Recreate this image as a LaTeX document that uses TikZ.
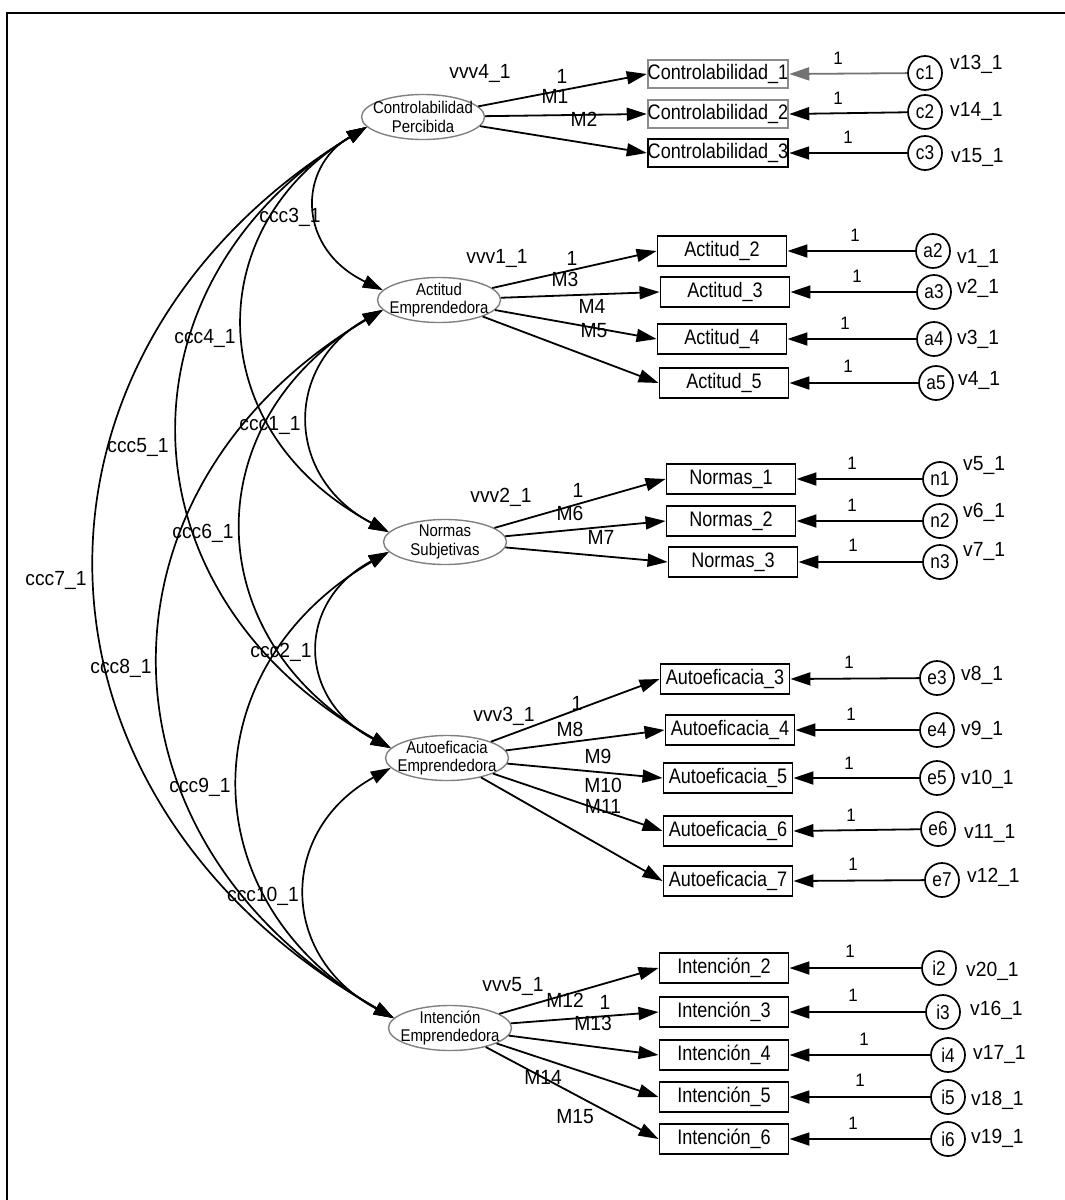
\documentclass[tikz,border=0pt]{standalone}
\usepackage{fontspec}
\setmainfont{Liberation Sans}
\newfontfamily\narbox[FakeStretch=0.86]{Liberation Sans}
\newfontfamily\narlat[FakeStretch=0.88]{Liberation Sans}
\newfontfamily\narlab[FakeStretch=0.94]{Liberation Sans}
\usetikzlibrary{arrows.meta,shapes.geometric}
\begin{document}
\begin{tikzpicture}[x=1pt,y=-1pt,
  lat/.style={ellipse,draw=black!50,line width=1.4pt,minimum width=123pt,minimum height=45pt,inner sep=0pt},
  lattxt/.style={inner sep=0pt,align=center,font=\narlat\fontsize{17}{18.5}\selectfont},
  obs/.style={rectangle,draw,line width=1.9pt,minimum width=129pt,minimum height=30pt,inner sep=0pt,font=\narbox\fontsize{21}{22}\selectfont},
  err/.style={circle,draw,line width=1.7pt,minimum size=34pt,inner sep=0pt,font=\narbox\fontsize{20}{22}\selectfont},
  lab/.style={inner sep=0pt,font=\narlab\fontsize{20.5}{22}\selectfont},
  one/.style={inner sep=0pt,font=\narlab\fontsize{18}{20}\selectfont},
  arr/.style={line width=1.8pt,-{Triangle[length=20pt,width=13pt]}},
  cov/.style={line width=1.7pt,{Triangle[length=20pt,width=13pt]}-{Triangle[length=20pt,width=13pt]}},
]
\useasboundingbox (0,0) rectangle (1065,1200);
\draw[line width=2pt] (7,1200) -- (7,13) -- (1065,13);

% latent variables
\node[lat] (cp) at (423,117) {};
\node[lat] (ae) at (439,300) {};
\node[lat] (ns) at (445,542) {};
\node[lat] (au) at (447,758) {};
\node[lat] (ie) at (450,1028) {};
\node[lattxt] (cpt) at (cp) {Controlabilidad\\Percibida};
\node[lattxt] (aet) at (ae) {Actitud\\Emprendedora};
\node[lattxt] (nst) at (ns) {Normas\\Subjetivas};
\node[lattxt] (aut) at (au) {Autoeficacia\\Emprendedora};
\node[lattxt] (iet) at (ie) {Intención\\Emprendedora};

% observed variables
\node[obs,draw=black!45,minimum height=28pt] (cb1) at (718,74) {Controlabilidad\_1};
\node[obs,draw=black!45,minimum height=28pt] (cb2) at (718,114) {Controlabilidad\_2};
\node[obs,minimum height=28pt] (cb3) at (718,153) {Controlabilidad\_3};
\node[obs] (ab2) at (722,251) {Actitud\_2};
\node[obs] (ab3) at (725,292) {Actitud\_3};
\node[obs] (ab4) at (722,339) {Actitud\_4};
\node[obs] (ab5) at (724,383) {Actitud\_5};
\node[obs] (nb1) at (731,479) {Normas\_1};
\node[obs] (nb2) at (731,521) {Normas\_2};
\node[obs] (nb3) at (733,562) {Normas\_3};
\node[obs] (eb3) at (725,679) {Autoeficacia\_3};
\node[obs] (eb4) at (730,730) {Autoeficacia\_4};
\node[obs] (eb5) at (728,778) {Autoeficacia\_5};
\node[obs] (eb6) at (728,831) {Autoeficacia\_6};
\node[obs] (eb7) at (728,881) {Autoeficacia\_7};
\node[obs] (ib2) at (724,968) {Intención\_2};
\node[obs] (ib3) at (724,1012) {Intención\_3};
\node[obs] (ib4) at (724,1055) {Intención\_4};
\node[obs] (ib5) at (724,1097) {Intención\_5};
\node[obs] (ib6) at (724,1139) {Intención\_6};

% error terms
\node[err] (c1) at (925,73) {c1};
\node[err] (c2) at (925,112) {c2};
\node[err] (c3) at (925,153) {c3};
\node[err] (a2) at (933,251) {a2};
\node[err] (a3) at (934,292) {a3};
\node[err] (a4) at (934,339) {a4};
\node[err] (a5) at (936,383) {a5};
\node[err] (n1) at (940,479) {n1};
\node[err] (n2) at (940,521) {n2};
\node[err] (n3) at (940,562) {n3};
\node[err] (e3) at (937,678) {e3};
\node[err] (e4) at (937,730) {e4};
\node[err] (e5) at (937,778) {e5};
\node[err] (e6) at (938,829) {e6};
\node[err] (e7) at (942,880) {e7};
\node[err] (i2) at (939,968) {i2};
\node[err] (i3) at (943,1012) {i3};
\node[err] (i4) at (948,1055) {i4};
\node[err] (i5) at (948,1097) {i5};
\node[err] (i6) at (948,1139) {i6};

% loadings
\foreach \l/\b in {cp/cb1,cp/cb2,cp/cb3,ae/ab2,ae/ab3,ae/ab4,ae/ab5,ns/nb1,ns/nb2,ns/nb3,au/eb3,au/eb4,au/eb5,au/eb6,au/eb7,ie/ib2,ie/ib3,ie/ib4,ie/ib5,ie/ib6}
  \draw[arr] (\l) -- (\b.west);
% error paths
\draw[arr,black!55] (c1) -- (cb1.east);
\foreach \e/\b in {c2/cb2,c3/cb3,a2/ab2,a3/ab3,a4/ab4,a5/ab5,n1/nb1,n2/nb2,n3/nb3,e3/eb3,e4/eb4,e5/eb5,e6/eb6,e7/eb7,i2/ib2,i3/ib3,i4/ib4,i5/ib5,i6/ib6}
  \draw[arr] (\e) -- (\b.east);

% covariances
\draw[cov] (cp.190) .. controls (297,168) and (297,249) .. (ae.170);
\draw[cov] (cp.190) .. controls (200,228) and (200,431) .. (ns.170);
\draw[cov] (cp.190) .. controls (113,282) and (113,593) .. (au.170);
\draw[cov] (cp.190) .. controls (2,350) and (2,795) .. (ie.170);
\draw[cov] (ae.190) .. controls (284,365) and (284,477) .. (ns.170);
\draw[cov] (ae.190) .. controls (195,420) and (195,638) .. (au.170);
\draw[cov] (ae.190) .. controls (84,487) and (84,841) .. (ie.170);
\draw[cov] (ns.190) .. controls (296,601) and (296,699) .. (au.170);
\draw[cov] (ns.190) .. controls (189,668) and (189,902) .. (ie.170);
\draw[cov] (au.190) .. controls (278,830) and (278,956) .. (ie.170);

% covariance labels
\node[lab] (k3) at (290,217) {ccc3\_1};
\node[lab] (k4) at (205,338) {ccc4\_1};
\node[lab] (k1) at (270,425) {ccc1\_1};
\node[lab] (k5) at (138,447) {ccc5\_1};
\node[lab] (k6) at (203,533) {ccc6\_1};
\node[lab] (k7) at (56,580) {ccc7\_1};
\node[lab] (k2) at (281,652) {ccc2\_1};
\node[lab] (k8) at (121,668) {ccc8\_1};
\node[lab] (k9) at (200,787) {ccc9\_1};
\node[lab] (k10) at (263,896) {ccc10\_1};

% loading labels
\node[lab] (w4) at (480,73) {vvv4\_1};
\node[lab] (o1) at (562,76) {1};
\node[lab] (m1) at (555,96) {M1};
\node[lab] (m2) at (584,119) {M2};
\node[lab] (w1) at (497,258) {vvv1\_1};
\node[lab] (o2) at (572,258) {1};
\node[lab] (m3) at (565,279) {M3};
\node[lab] (m4) at (592,306) {M4};
\node[lab] (m5) at (594,331) {M5};
\node[lab] (w2) at (501,497) {vvv2\_1};
\node[lab] (o3) at (578,490) {1};
\node[lab] (m6) at (570,513) {M6};
\node[lab] (m7) at (601,537) {M7};
\node[lab] (w3) at (504,716) {vvv3\_1};
\node[lab] (o4) at (577,703) {1};
\node[lab] (m8) at (570,729) {M8};
\node[lab] (m9) at (598,756) {M9};
\node[lab] (m10) at (603,785) {M10};
\node[lab] (m11) at (603,806) {M11};
\node[lab] (w5) at (513,986) {vvv5\_1};
\node[lab] (m12) at (565,1000) {M12};
\node[lab] (o5) at (605,1002) {1};
\node[lab] (m13) at (593,1023) {M13};
\node[lab] (m14) at (543,1077) {M14};
\node[lab] (m15) at (575,1117) {M15};

% error path labels
\foreach \x/\y [count=\i] in {838/58,838/98,848/137,855/235,857/276,845/323,848/366,852/463,852/505,853/545,849/662,851/714,849/763,851/815,853/864,850/951,853/995,864/1039,860/1080,853/1123}
  \node[one] (u\i) at (\x,\y) {1};

% variance labels
\foreach \x/\y/\t [count=\i] in {950/64/v13,950/111/v14,951/157/v15,957/258/v1,957/288/v2,957/339/v3,958/380/v4,963/465/v5,963/512/v6,963/551/v7,961/675/v8,961/730/v9,961/779/v10,964/833/v11,967/877/v12,966/971/v20,970/1010/v16,973/1054/v17,971/1100/v18,971/1138/v19}
  \node[lab,anchor=west] (v\i) at (\x,\y) {\t\_1};
\end{tikzpicture}
\end{document}
